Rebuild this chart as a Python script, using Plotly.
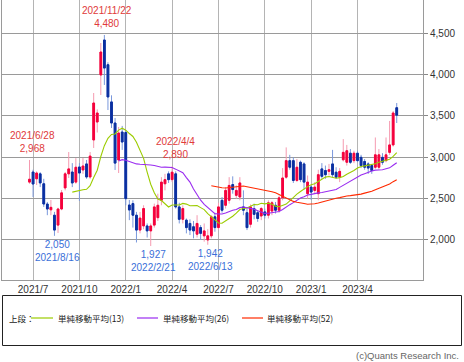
import plotly.graph_objects as go
import pandas as pd

# ---------------- data ----------------
week_start = "2021-06-28"
n_weeks = 104
dates = pd.date_range(week_start, periods=n_weeks, freq="7D")

opens = [2700, 2822, 2740, 2800, 2680, 2435, 2365, 2300, 2180, 2375,
         2630, 2800, 2822, 2700, 2883, 2847, 2920, 2762, 3210, 3427,
         3996, 4419, 4120, 3670, 3415, 2968, 3306, 3300, 2423, 2440,
         2300, 2120, 2170, 2170, 2110, 2180, 2270, 2480, 2680, 2800,
         2730, 2800, 2400, 2250, 2240, 2200, 2160, 2070, 2150, 2050,
         2000, 2050, 2280, 2150, 2480, 2420, 2480, 2670, 2540, 2520,
         2400, 2330, 2190, 2380, 2330, 2290, 2340, 2300, 2350, 2420,
         2360, 2510, 2760, 2960, 2960, 2720, 2940, 2920, 2560, 2640,
         2600, 2560, 2860, 2840, 2830, 2920, 2820, 2760, 2970, 2940,
         3050, 2960, 3050, 3000, 2950, 2920, 2900, 2880, 2880, 3000,
         2960, 3060, 3150, 3600]
highs = [2968, 2850, 2830, 2820, 2740, 2460, 2484, 2340, 2390, 2605,
         2822, 3064, 2930, 2990, 2930, 2992, 2968, 3064, 3778, 3580,
         4383, 4480, 4150, 3750, 3475, 3367, 3380, 3330, 2484, 2480,
         2340, 2340, 2420, 2200, 2200, 2440, 2560, 2760, 2800, 2830,
         2890, 2830, 2450, 2420, 2260, 2250, 2230, 2300, 2180, 2200,
         2130, 2300, 2330, 2450, 2520, 2640, 2760, 2770, 2660, 2760,
         2600, 2380, 2430, 2440, 2360, 2400, 2380, 2480, 2470, 2460,
         2540, 2870, 3120, 3030, 3000, 2980, 2960, 2940, 2780, 2660,
         2700, 2850, 2930, 2900, 2920, 3090, 2880, 2870, 3220, 3150,
         3100, 3080, 3080, 3030, 2980, 2940, 2920, 3240, 3100, 3050,
         3240, 3440, 3560, 3657]
lows = [2680, 2520, 2665, 2640, 2400, 2300, 2300, 2050, 2085, 2360,
        2600, 2750, 2640, 2680, 2472, 2800, 2740, 2740, 3113, 3300,
        3754, 3875, 3572, 3355, 2847, 2810, 3090, 2420, 2240, 2150,
        1970, 2080, 2130, 2030, 1927, 2150, 2230, 2420, 2600, 2690,
        2700, 2380, 2200, 2200, 2080, 2060, 2020, 2030, 2000, 1980,
        1942, 2020, 2100, 2120, 2330, 2380, 2440, 2560, 2500, 2480,
        2300, 2120, 2150, 2250, 2220, 2240, 2260, 2260, 2300, 2320,
        2330, 2480, 2740, 2850, 2690, 2700, 2700, 2610, 2500, 2484,
        2560, 2480, 2740, 2740, 2780, 2760, 2740, 2700, 2950, 2900,
        2920, 2930, 2940, 2870, 2850, 2800, 2800, 2860, 2850, 2910,
        2940, 3030, 3130, 3415]
closes = [2735, 2677, 2810, 2690, 2435, 2375, 2395, 2120, 2375, 2570,
          2800, 2860, 2690, 2880, 2810, 2895, 2762, 3015, 3657, 3536,
          4274, 4080, 3730, 3415, 2930, 3294, 3185, 2500, 2363, 2300,
          2120, 2265, 2380, 2110, 2170, 2400, 2420, 2700, 2730, 2730,
          2820, 2400, 2250, 2380, 2150, 2120, 2110, 2200, 2080, 2110,
          2050, 2280, 2150, 2400, 2360, 2600, 2660, 2610, 2600, 2690,
          2360, 2150, 2400, 2310, 2260, 2380, 2300, 2450, 2450, 2360,
          2510, 2750, 2960, 2880, 2720, 2880, 2730, 2700, 2700, 2580,
          2640, 2790, 2770, 2790, 2850, 2790, 2760, 2830, 3060, 3080,
          2940, 3050, 2960, 2900, 2880, 2870, 2840, 3030, 3030, 2940,
          3030, 3150, 3536, 3510]

ma_windows = [13, 26, 52]
ma_names = ["単純移動平均(13)", "単純移動平均(26)", "単純移動平均(52)"]
ma_colors = ["#9ccc00", "#9a2cf0", "#ff2a00"]

tick_dates = ["2021-07-05", "2021-10-04", "2022-01-03", "2022-04-04",
              "2022-07-04", "2022-10-03", "2023-01-02", "2023-04-03"]
tick_labels = ["2021/7", "2021/10", "2022/1", "2022/4",
               "2022/7", "2022/10", "2023/1", "2023/4"]
y_ticks = [2000, 2500, 3000, 3500, 4000, 4500]

high_label_weeks = ["2021-06-28", "2021-11-22", "2022-04-04"]
low_label_weeks = ["2021-08-16", "2022-02-21", "2022-06-13"]

# ---------------- styling ----------------
W, H = 464, 362
PL, PR, PT, PB = 2, 423, 0, 280        # plot area in pixels
UP, UP_W = "#f5003c", "#f59ab0"
DN, DN_W = "#0b2fa0", "#7a98dc"
RED_TXT, BLUE_TXT = "#e03a3a", "#3a6fd8"
NUM_FONT = "Liberation Sans, Arial, sans-serif"
JP_FONT = "Noto Sans CJK JP, sans-serif"


def pxx(x):
    return (x - PL) / (PR - PL)


def pxy(y):
    return (PB - y) / (PB - PT)


df = pd.DataFrame({"date": dates, "open": opens, "high": highs,
                   "low": lows, "close": closes})
body_top = df[["open", "close"]].max(axis=1)
body_bot = df[["open", "close"]].min(axis=1)

fig = go.Figure()

# wicks (lighter colours)
fig.add_trace(go.Candlestick(
    x=df["date"], open=df["open"], high=df["high"], low=df["low"], close=df["close"],
    increasing=dict(line=dict(color=UP_W, width=1), fillcolor=UP_W),
    decreasing=dict(line=dict(color=DN_W, width=1), fillcolor=DN_W),
    whiskerwidth=0, showlegend=False, hoverinfo="skip"))
# solid bodies
fig.add_trace(go.Candlestick(
    x=df["date"], open=df["open"], high=body_top, low=body_bot, close=df["close"],
    increasing=dict(line=dict(color=UP, width=1), fillcolor=UP),
    decreasing=dict(line=dict(color=DN, width=1), fillcolor=DN),
    whiskerwidth=0, showlegend=False))

# moving averages (computed from closes)
for w, name, col in zip(ma_windows, ma_names, ma_colors):
    ma = df["close"].rolling(w).mean()
    fig.add_trace(go.Scatter(x=df["date"], y=ma, mode="lines", name=name,
                             line=dict(color=col, width=1.1), showlegend=False))

annotations = []
# high / low labels
for d in high_label_weeks:
    row = df[df["date"] == pd.Timestamp(d)].iloc[0]
    annotations.append(dict(
        x=row["date"], y=row["high"], xref="x", yref="y",
        text=f"{row['date'].year}/{row['date'].month}/{row['date'].day}<br>{int(row['high']):,}",
        showarrow=False, xanchor="center", yanchor="middle", xshift=3, yshift=18,
        font=dict(family=NUM_FONT, size=10, color=RED_TXT), align="center"))
for d in low_label_weeks:
    row = df[df["date"] == pd.Timestamp(d)].iloc[0]
    annotations.append(dict(
        x=row["date"], y=row["low"], xref="x", yref="y",
        text=f"{int(row['low']):,}<br>{row['date'].year}/{row['date'].month}/{row['date'].day}",
        showarrow=False, xanchor="center", yanchor="middle", xshift=3, yshift=-15,
        font=dict(family=NUM_FONT, size=10, color=BLUE_TXT), align="center"))

# legend box content
annotations.append(dict(x=pxx(7), y=pxy(318), xref="paper", yref="paper",
                        text="上段：", showarrow=False, xanchor="left", yanchor="middle",
                        font=dict(family=JP_FONT, size=8.5, color="#222")))
leg_line_x = [(31, 53), (137, 158), (242, 263)]
leg_text_x = [56, 161, 265]
shapes = []
for (x0, x1), tx, name, col in zip(leg_line_x, leg_text_x, ma_names, ma_colors):
    shapes.append(dict(type="line", xref="paper", yref="paper",
                       x0=pxx(x0), x1=pxx(x1), y0=pxy(318), y1=pxy(318),
                       line=dict(color=col, width=1.2)))
    annotations.append(dict(x=pxx(tx), y=pxy(318), xref="paper", yref="paper",
                            text=name, showarrow=False, xanchor="left", yanchor="middle",
                            font=dict(family=JP_FONT, size=8.5, color="#222")))
shapes.append(dict(type="rect", xref="paper", yref="paper",
                   x0=pxx(2.5), x1=pxx(461.5), y0=pxy(295.5), y1=pxy(345.5),
                   line=dict(color="#222", width=1), fillcolor="rgba(0,0,0,0)"))
annotations.append(dict(x=pxx(461), y=pxy(355), xref="paper", yref="paper",
                        text="(c)Quants Research Inc.", showarrow=False,
                        xanchor="right", yanchor="middle",
                        font=dict(family=NUM_FONT, size=9.5, color="#666")))

fig.update_layout(
    width=W, height=H,
    margin=dict(l=PL, r=W - PR, t=PT, b=H - PB, pad=0),
    paper_bgcolor="white", plot_bgcolor="white",
    showlegend=False,
    annotations=annotations, shapes=shapes,
    boxgap=0.3,
    xaxis=dict(
        type="date", range=["2021-05-05", "2023-08-09 14:00"],
        tickvals=tick_dates, ticktext=tick_labels, ticks="",
        tickfont=dict(family=NUM_FONT, size=10, color="#333"),
        showgrid=True, gridcolor="#b4b4b4", gridwidth=1,
        showline=True, linecolor="#9a9a9a", linewidth=1, mirror=True,
        rangeslider=dict(visible=False), fixedrange=True, zeroline=False),
    yaxis=dict(
        side="right", range=[1516, 4903], tickvals=y_ticks,
        tickformat=",d", ticks="outside", ticklen=4, tickcolor="#888",
        tickfont=dict(family=NUM_FONT, size=10, color="#333"),
        showgrid=True, gridcolor="#9a9a9a", gridwidth=1,
        showline=True, linecolor="#9a9a9a", linewidth=1, mirror=True,
        zeroline=False, fixedrange=True),
)

fig.write_html(
    "out.html",
    config={"displayModeBar": False},
    post_script="document.body.style.margin='0';document.body.style.overflow='hidden';",
)
